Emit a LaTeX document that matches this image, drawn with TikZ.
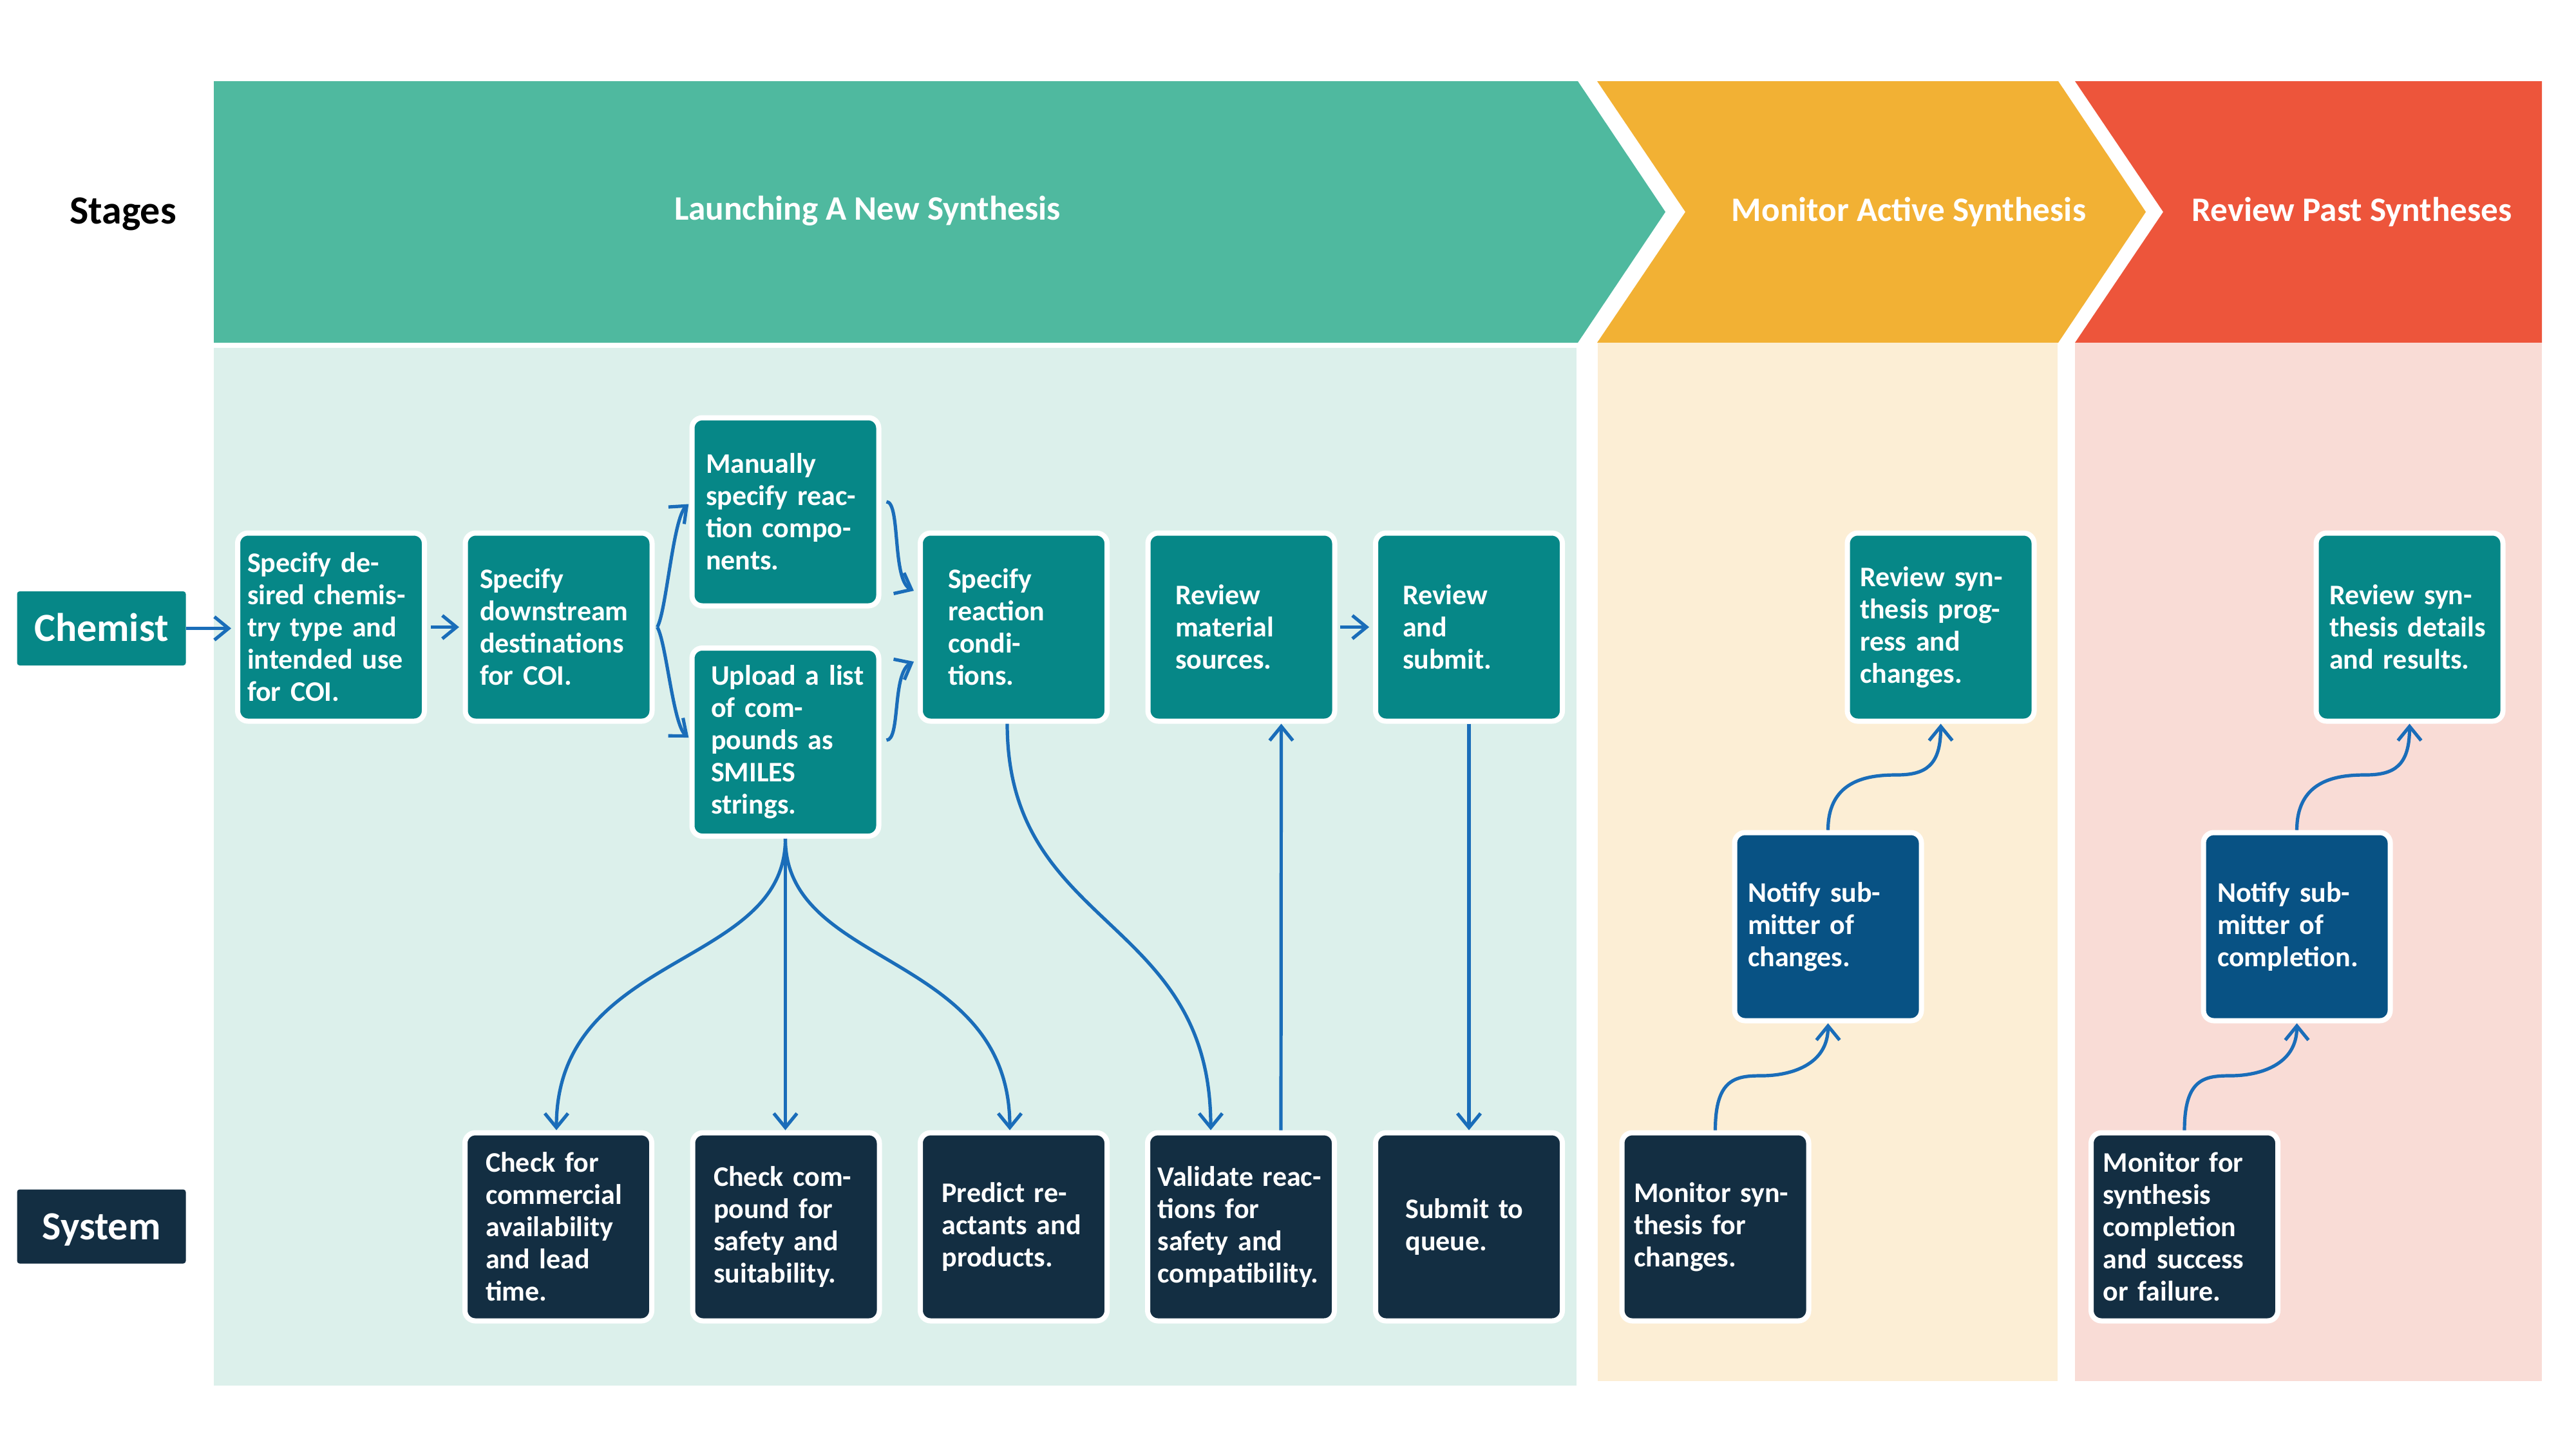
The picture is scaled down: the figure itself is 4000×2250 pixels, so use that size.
\documentclass[tikz,border=0pt]{standalone}
\usepackage{fontspec}
\setmainfont{Carlito}
\usetikzlibrary{arrows.meta}
\definecolor{hdteal}{HTML}{4FB99F}
\definecolor{hdorange}{HTML}{F2B134}
\definecolor{hdred}{HTML}{ED553B}
\definecolor{bgteal}{HTML}{DCF0EB}
\definecolor{bgorange}{HTML}{FCEED5}
\definecolor{bgred}{HTML}{F9DCD6}
\definecolor{cardteal}{HTML}{068787}
\definecolor{cardnavy}{HTML}{132E42}
\definecolor{cardblue}{HTML}{085284}
\definecolor{flowblue}{HTML}{1A6DB9}
\tikzset{
  stepcard/.style={draw=white, line width=2pt, rounded corners=4pt,
    minimum width=72.5pt, minimum height=73pt, inner sep=0pt, align=left,
    text=white, font=\fontsize{11}{12.5}\selectfont\bfseries},
  chembox/.style={stepcard, fill=cardteal, text width=#1},
  sysbox/.style={stepcard, fill=cardnavy, text width=#1},
  notbox/.style={stepcard, fill=cardblue, text width=#1},
  rolelabel/.style={rounded corners=1pt, minimum width=65.5pt, minimum height=28.75pt,
    inner sep=0pt, text=white, font=\fontsize{15.5}{18}\selectfont\bfseries,
    text height=10pt, text depth=0pt},
  stagetitle/.style={anchor=base, text=white, inner sep=0pt,
    font=\fontsize{13.3}{16}\selectfont\bfseries},
  flow/.style={draw=flowblue, line width=1.3pt, -{Straight Barb[length=5.5pt,width=9pt]}},
}
\begin{document}
\begin{tikzpicture}[x=0.25pt,y=-0.25pt]
\useasboundingbox (0,0) rectangle (4000,2250);
\fill[white] (0,0) rectangle (4000,2250);
% stage headers
\fill[hdteal] (332,126) -- (2450,126) -- (2586,329) -- (2450,532) -- (332,532) -- cycle;
\fill[hdorange] (2480,126) -- (3196,126) -- (3332,329) -- (3196,532) -- (2480,532) -- (2617,329) -- cycle;
\fill[hdred] (3222,126) -- (3947,126) -- (3947,532) -- (3222,532) -- (3359,329) -- cycle;
% stage bodies
\fill[bgteal] (332,540) rectangle (2448,2151);
\fill[bgorange] (2481,532) rectangle (3195,2144);
\fill[bgred] (3222,532) rectangle (3947,2144);
% titles
\node[anchor=base, inner sep=0pt, font=\fontsize{15.5}{18}\selectfont\bfseries] (stages) at (191,347) {Stages};
\node[stagetitle] (t1) at (1347,341) {Launching A New Synthesis};
\node[stagetitle] (t2) at (2964,343) {Monitor Active Synthesis};
\node[stagetitle] (t3) at (3652,343) {Review Past Syntheses};
% role labels
\node[rolelabel, fill=cardteal] (chem) at (157.5,975.5) {Chemist};
\node[rolelabel, fill=cardnavy] (sys) at (157.5,1904) {System};
% chemist row
\node[chembox=65pt] (B1) at (514,973.5) {\mbox{Specify de-}\\\mbox{sired chemis-}\\\mbox{try type and}\\\mbox{intended use}\\for COI.};
\node[chembox=61.25pt] (B2) at (867.5,973.5) {Specify\\downstream\\destinations\\for COI.};
\node[chembox=61.75pt] (B3) at (1219.5,794.5) {Manually\\\mbox{specify reac-}\\\mbox{tion compo-}\\nents.};
\node[chembox=57.75pt] (B4) at (1219.5,1152) {\mbox{Upload a list}\\\mbox{of com-}\\\mbox{pounds as}\\SMILES\\strings.};
\node[chembox=51pt] (B5) at (1574,973.5) {Specify\\reaction\\condi-\\tions.};
\node[chembox=51.25pt] (B6) at (1927.5,973.5) {Review\\material\\sources.};
\node[chembox=51.5pt] (B7) at (2281,973.5) {Review\\and\\submit.};
\node[chembox=62.75pt] (B8) at (3013.5,973.5) {\mbox{Review syn-}\\\mbox{thesis prog-}\\\mbox{ress and}\\changes.};
\node[chembox=62.25pt] (B9) at (3741.5,973.5) {\mbox{Review syn-}\\\mbox{thesis details}\\\mbox{and results.}};
% notify row
\node[notbox=62.25pt] (N1) at (2838.5,1438.5) {\mbox{Notify sub-}\\\mbox{mitter of}\\changes.};
\node[notbox=61.75pt] (N2) at (3566.5,1438.5) {\mbox{Notify sub-}\\\mbox{mitter of}\\completion.};
% system row
\node[sysbox=56.5pt] (S1) at (867,1904.5) {\mbox{Check for}\\commercial\\availability\\\mbox{and lead}\\time.};
\node[sysbox=56.25pt] (S2) at (1220.5,1904.5) {\mbox{Check com-}\\\mbox{pound for}\\\mbox{safety and}\\suitability.};
\node[sysbox=55.75pt] (S3) at (1574,1904.5) {\mbox{Predict re-}\\\mbox{actants and}\\products.};
\node[sysbox=64.75pt] (S4) at (1927,1904.5) {\mbox{Validate reac-}\\\mbox{tions for}\\\mbox{safety and}\\compatibility.};
\node[sysbox=49.25pt] (S5) at (2281,1904.5) {\mbox{Submit to}\\queue.};
\node[sysbox=63.25pt] (M1) at (2663.5,1904.5) {\mbox{Monitor syn-}\\\mbox{thesis for}\\changes.};
\node[sysbox=63.25pt] (M2) at (3392,1904.5) {\mbox{Monitor for}\\synthesis\\completion\\\mbox{and success}\\\mbox{or failure.}};
% connectors
\draw[flow, shorten >=1.5pt] (chem.east) -- (chem.east -| B1.west);
\draw[flow, shorten <=1.5pt, shorten >=1.4pt] (B1.east) -- (B2.west);
\draw[flow] ([xshift=1pt]B2.east) .. controls +(14,-23) and (1045,805) .. ([xshift=-0.3pt,yshift=3pt]B3.west);
\draw[flow] ([xshift=1pt]B2.east) .. controls +(14,23) and (1045,1125) .. ([xshift=-0.3pt,yshift=1.75pt]B4.west);
\draw[flow] ([xshift=2pt,yshift=3.9pt]B3.east) .. controls +(22,0) and (1385,900) .. ([xshift=-1.5pt,yshift=14.1pt]B5.west);
\draw[flow] ([xshift=2pt,yshift=0.75pt]B4.east) .. controls +(22,0) and (1385,1045) .. ([xshift=-1.5pt,yshift=-13.4pt]B5.west);
\draw[flow] ([xshift=-2.5pt]B5.south) .. controls +(0,322) and +(0,-335) .. ([xshift=-11.75pt]S4.north);
\draw[flow] ([xshift=15.5pt]S4.north) -- ([xshift=15.5pt]B6.south);
\draw[flow, shorten <=1pt, shorten >=1.5pt] (B6.east) -- (B7.west);
\draw[flow] (B7.south) -- (B7.south |- S5.north);
\draw[flow] (B4.south) .. controls +(0,202) and +(0,-278) .. ([xshift=-0.75pt]S1.north);
\draw[flow] (B4.south) -- (B4.south |- S2.north);
\draw[flow] (B4.south) .. controls +(0,202) and +(0,-278) .. ([xshift=-1.5pt]S3.north);
\draw[flow] (M1.north) .. controls +(0,-80) and +(-40,0) .. (2735,1670) .. controls +(45,0) and +(0,65) .. (N1.south);
\draw[flow] (N1.north) .. controls +(0,-80) and +(-40,0) .. (2945,1203) .. controls +(45,0) and +(0,65) .. (B8.south);
\draw[flow] (M2.north) .. controls +(0,-80) and +(-40,0) .. (3463,1670) .. controls +(45,0) and +(0,65) .. (N2.south);
\draw[flow] (N2.north) .. controls +(0,-80) and +(-40,0) .. (3673,1203) .. controls +(45,0) and +(0,65) .. (B9.south);
\end{tikzpicture}
\end{document}
